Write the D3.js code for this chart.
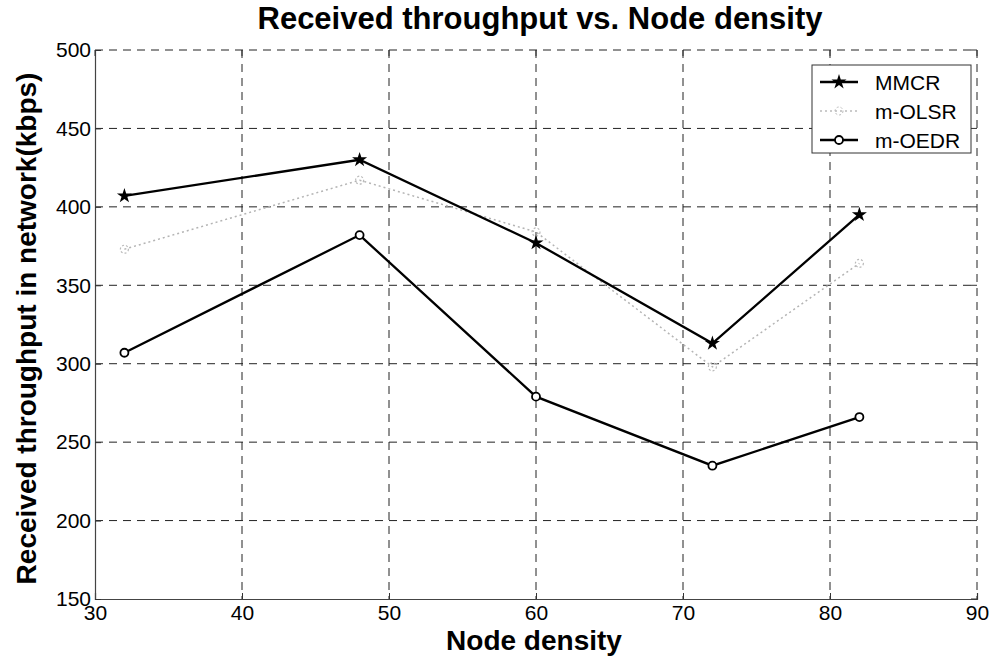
<!DOCTYPE html>
<html>
<head>
<meta charset="utf-8">
<script src="https://cdn.jsdelivr.net/npm/d3@7"></script>
<style>
  body { margin: 0; background: #fff; }
  svg { display: block; font-family: "Liberation Sans", Arial, sans-serif; }
</style>
</head>
<body>
<svg id="chart" width="993" height="656"></svg>
<script>
// Data
const nodeDensity = [32, 48, 60, 72, 82];
const mmcr = [407, 430, 377, 313, 395];
const mOlsr = [373, 417, 384, 298, 364];
const mOedr = [307, 382, 279, 235, 266];
const seriesNames = ["MMCR", "m-OLSR", "m-OEDR"];
const xTicks = [30, 40, 50, 60, 70, 80, 90];
const yTicks = [150, 200, 250, 300, 350, 400, 450, 500];

const margin = { top: 50, right: 16, bottom: 57, left: 95 };
const width = 993 - margin.left - margin.right;
const height = 656 - margin.top - margin.bottom;

const svg = d3.select("#chart");
const g = svg.append("g")
    .attr("transform", "translate(" + margin.left + "," + margin.top + ")");

const x = d3.scaleLinear().domain([30, 90]).range([0, width]);
const y = d3.scaleLinear().domain([150, 500]).range([height, 0]);

// Dashed grid
g.append("g")
    .selectAll("line")
    .data(xTicks.slice(1))
    .enter().append("line")
    .attr("x1", d => x(d)).attr("x2", d => x(d))
    .attr("y1", 0).attr("y2", height)
    .attr("stroke", "#222")
    .attr("stroke-width", 1)
    .attr("stroke-dasharray", "8,6");

g.append("g")
    .selectAll("line")
    .data(yTicks.slice(1))
    .enter().append("line")
    .attr("x1", 0).attr("x2", width)
    .attr("y1", d => y(d)).attr("y2", d => y(d))
    .attr("stroke", "#222")
    .attr("stroke-width", 1)
    .attr("stroke-dasharray", "8,6");

// Axes (left and bottom solid)
const xAxis = g.append("g")
    .attr("transform", "translate(0," + height + ")")
    .call(d3.axisBottom(x).tickValues(xTicks).tickSize(-6).tickPadding(9).tickFormat(d3.format("d")));
const yAxis = g.append("g")
    .call(d3.axisLeft(y).tickValues(yTicks).tickSize(-6).tickPadding(4).tickFormat(d3.format("d")));

[xAxis, yAxis].forEach(a => {
    a.select(".domain").attr("stroke", "#444").attr("stroke-width", 1.2);
    a.selectAll(".tick line").attr("stroke", "#333");
    a.selectAll("text")
        .style("font-size", "21px")
        .style("fill", "#000")
        .style("font-family", "'Liberation Sans', Arial, sans-serif");
});
xAxis.selectAll("text").attr("dy", "0.55em");

// Inner ticks on top and right edges
g.append("g")
    .selectAll("line")
    .data(xTicks)
    .enter().append("line")
    .attr("x1", d => x(d)).attr("x2", d => x(d))
    .attr("y1", 0).attr("y2", 6)
    .attr("stroke", "#333");
g.append("g")
    .selectAll("line")
    .data(yTicks)
    .enter().append("line")
    .attr("x1", width - 6).attr("x2", width)
    .attr("y1", d => y(d)).attr("y2", d => y(d))
    .attr("stroke", "#333");

const line = d3.line()
    .x((d, i) => x(nodeDensity[i]))
    .y(d => y(d));

const star = d3.symbol().type(d3.symbolStar).size(70);

// m-OLSR (faint gray dotted)
g.append("path")
    .datum(mOlsr)
    .attr("d", line)
    .attr("fill", "none")
    .attr("stroke", "#b4b4b4")
    .attr("stroke-width", 1.5)
    .attr("stroke-dasharray", "2,3");
g.selectAll(".olsr-pt")
    .data(mOlsr)
    .enter().append("circle")
    .attr("class", "olsr-pt")
    .attr("cx", (d, i) => x(nodeDensity[i]))
    .attr("cy", d => y(d))
    .attr("r", 4)
    .attr("fill", "none")
    .attr("stroke", "#bbb")
    .attr("stroke-width", 1.2)
    .attr("stroke-dasharray", "2,2");

// MMCR
g.append("path")
    .datum(mmcr)
    .attr("d", line)
    .attr("fill", "none")
    .attr("stroke", "#000")
    .attr("stroke-width", 2.3);
g.selectAll(".mmcr-pt")
    .data(mmcr)
    .enter().append("path")
    .attr("class", "mmcr-pt")
    .attr("transform", (d, i) => "translate(" + x(nodeDensity[i]) + "," + y(d) + ")")
    .attr("d", star)
    .attr("fill", "#000");

// m-OEDR
g.append("path")
    .datum(mOedr)
    .attr("d", line)
    .attr("fill", "none")
    .attr("stroke", "#000")
    .attr("stroke-width", 2.3);
g.selectAll(".oedr-pt")
    .data(mOedr)
    .enter().append("circle")
    .attr("class", "oedr-pt")
    .attr("cx", (d, i) => x(nodeDensity[i]))
    .attr("cy", d => y(d))
    .attr("r", 4)
    .attr("fill", "#fff")
    .attr("stroke", "#000")
    .attr("stroke-width", 1.8);

// Legend
const legend = svg.append("g").attr("transform", "translate(812,65)");
legend.append("rect")
    .attr("width", 159).attr("height", 88)
    .attr("fill", "#fff")
    .attr("stroke", "#333")
    .attr("stroke-width", 1);

const legendY = [17, 46, 75];
seriesNames.forEach((name, i) => {
    const row = legend.append("g").attr("transform", "translate(0," + legendY[i] + ")");
    if (i === 1) {
        row.append("line").attr("x1", 8).attr("x2", 46)
            .attr("stroke", "#bbb").attr("stroke-width", 1.5).attr("stroke-dasharray", "2,3");
        row.append("circle").attr("cx", 27).attr("r", 4)
            .attr("fill", "none").attr("stroke", "#bbb").attr("stroke-dasharray", "2,2");
    } else {
        row.append("line").attr("x1", 8).attr("x2", 46)
            .attr("stroke", "#000").attr("stroke-width", 2.3);
        if (i === 0) {
            row.append("path").attr("transform", "translate(27,0)").attr("d", star).attr("fill", "#000");
        } else {
            row.append("circle").attr("cx", 27).attr("r", 4)
                .attr("fill", "#fff").attr("stroke", "#000").attr("stroke-width", 1.8);
        }
    }
    row.append("text")
        .attr("x", 63).attr("y", 0).attr("dy", "0.36em")
        .style("font-size", "21px")
        .text(name);
});

// Titles
svg.append("text")
    .attr("x", 540).attr("y", 29)
    .attr("text-anchor", "middle")
    .style("font-size", "31px")
    .style("font-weight", "bold")
    .text("Received throughput vs. Node density");

svg.append("text")
    .attr("x", 534).attr("y", 650)
    .attr("text-anchor", "middle")
    .style("font-size", "28px")
    .style("font-weight", "bold")
    .text("Node density");

svg.append("text")
    .attr("transform", "translate(36," + (margin.top + height / 2 + 4) + ") rotate(-90)")
    .attr("text-anchor", "middle")
    .style("font-size", "28px")
    .style("font-weight", "bold")
    .text("Received throughput in network(kbps)");
</script>
</body>
</html>
